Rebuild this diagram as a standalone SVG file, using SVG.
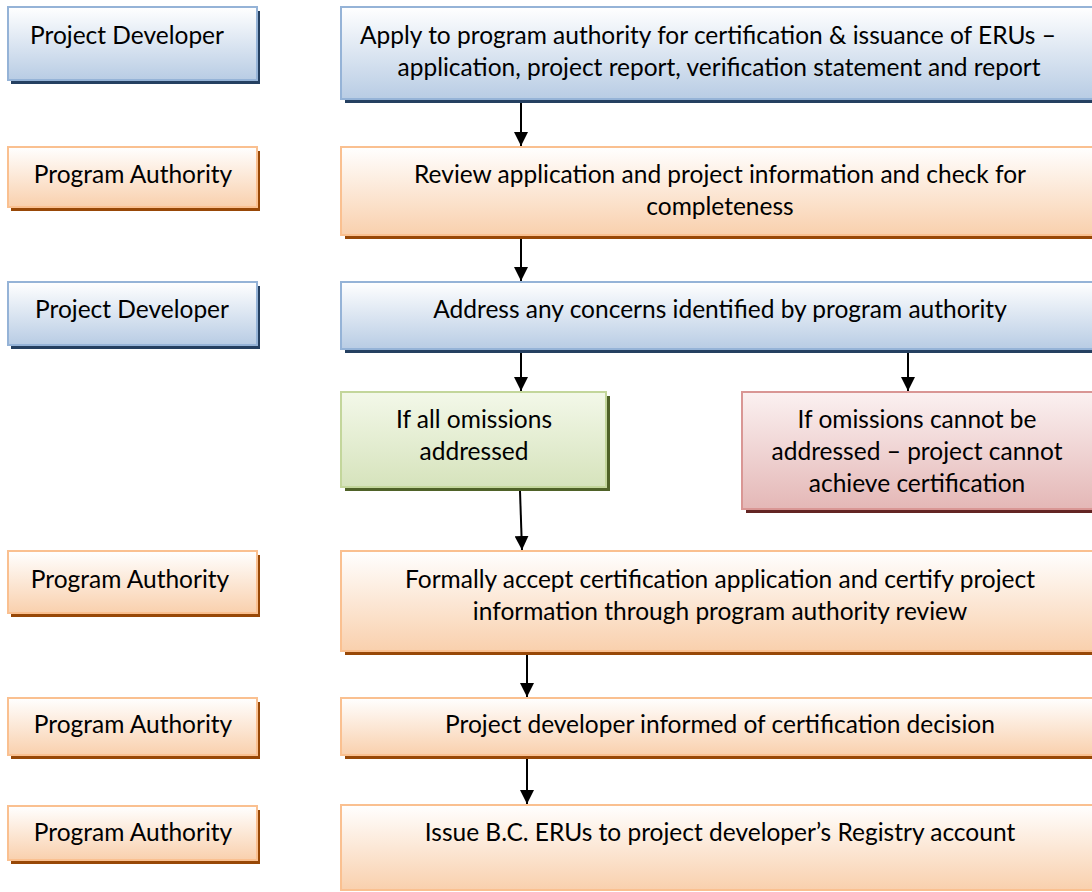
<svg xmlns="http://www.w3.org/2000/svg" width="1092" height="892" viewBox="0 0 1092 892">
<defs>
<linearGradient id="gBlue" x1="0" y1="0" x2="0" y2="1"><stop offset="0" stop-color="#ffffff"/><stop offset="1" stop-color="#b8cce4"/></linearGradient>
<linearGradient id="gOrange" x1="0" y1="0" x2="0" y2="1"><stop offset="0" stop-color="#ffffff"/><stop offset="1" stop-color="#f9d0ad"/></linearGradient>
<linearGradient id="gGreen" x1="0" y1="0" x2="0" y2="1"><stop offset="0" stop-color="#f3f8e9"/><stop offset="1" stop-color="#d6e3bc"/></linearGradient>
<linearGradient id="gRed" x1="0" y1="0" x2="0" y2="1"><stop offset="0" stop-color="#fbf1f1"/><stop offset="1" stop-color="#e4b7b6"/></linearGradient>
<marker id="arr" viewBox="0 0 14 14" refX="14" refY="7" markerWidth="14" markerHeight="14" markerUnits="userSpaceOnUse" orient="auto"><path d="M0,0 L14,7 L0,14 z" fill="#000"/></marker>
</defs>
<style>
text{font-family:Lato,"Liberation Sans",sans-serif;font-size:24.5px;fill:#000;text-anchor:middle}
.blue{fill:url(#gBlue);stroke:#95b3d7;stroke-width:2}
.blueS{fill:#254061}
.orange{fill:url(#gOrange);stroke:#fac090;stroke-width:2}
.orangeS{fill:#984807}
.green{fill:url(#gGreen);stroke:#c3d69b;stroke-width:2}
.greenS{fill:#4f6228}
.red{fill:url(#gRed);stroke:#d99694;stroke-width:2}
.redS{fill:#632523}
.conn line{stroke:#000;stroke-width:2;marker-end:url(#arr)}
</style>

<g id="pd1"><rect class="blueS" x="11" y="11" width="249" height="73"/><rect class="blue" x="8" y="7" width="249" height="73"/><text x="127" y="44">Project Developer</text></g>
<g id="step1"><rect class="blueS" x="345" y="11" width="760" height="92"/><rect class="blue" x="341" y="7" width="760" height="92"/><text x="708" y="44">Apply to program authority for certification &amp; issuance of ERUs –</text><text x="719" y="76">application, project report, verification statement and report</text></g>

<g id="pa1"><rect class="orangeS" x="11" y="151" width="249" height="60"/><rect class="orange" x="8" y="147" width="249" height="60"/><text x="133" y="183">Program Authority</text></g>
<g id="step2"><rect class="orangeS" x="345" y="151" width="760" height="88"/><rect class="orange" x="341" y="147" width="760" height="88"/><text x="720" y="183">Review application and project information and check for</text><text x="720" y="215">completeness</text></g>

<g id="pd2"><rect class="blueS" x="11" y="286" width="249" height="63"/><rect class="blue" x="8" y="282" width="249" height="63"/><text x="132" y="318">Project Developer</text></g>
<g id="step3"><rect class="blueS" x="345" y="286" width="760" height="67"/><rect class="blue" x="341" y="282" width="760" height="67"/><text x="720" y="318">Address any concerns identified by program authority</text></g>

<g id="yes"><rect class="greenS" x="345" y="396" width="265" height="95"/><rect class="green" x="341" y="392" width="265" height="95"/><text x="474" y="428">If all omissions</text><text x="474" y="460">addressed</text></g>
<g id="no"><rect class="redS" x="746" y="396" width="360" height="117"/><rect class="red" x="742" y="392" width="360" height="117"/><text x="917" y="428">If omissions cannot be</text><text x="917" y="460">addressed – project cannot</text><text x="917" y="492">achieve certification</text></g>

<g id="pa2"><rect class="orangeS" x="11" y="555" width="249" height="62"/><rect class="orange" x="8" y="551" width="249" height="62"/><text x="130" y="588">Program Authority</text></g>
<g id="step4"><rect class="orangeS" x="345" y="555" width="760" height="100"/><rect class="orange" x="341" y="551" width="760" height="100"/><text x="720" y="588">Formally accept certification application and certify project</text><text x="720" y="620">information through program authority review</text></g>

<g id="pa3"><rect class="orangeS" x="11" y="702" width="249" height="57"/><rect class="orange" x="8" y="698" width="249" height="57"/><text x="133" y="733">Program Authority</text></g>
<g id="step5"><rect class="orangeS" x="345" y="702" width="760" height="57"/><rect class="orange" x="341" y="698" width="760" height="57"/><text x="720" y="733">Project developer informed of certification decision</text></g>

<g id="pa4"><rect class="orangeS" x="11" y="810" width="249" height="54"/><rect class="orange" x="8" y="806" width="249" height="54"/><text x="133" y="841">Program Authority</text></g>
<g id="step6"><rect class="orange" x="341" y="805" width="760" height="85"/><text x="720" y="841">Issue B.C. ERUs to project developer’s Registry account</text></g>

<g id="connectors" class="conn">
<line x1="521" y1="103" x2="521" y2="146"/>
<line x1="521" y1="239" x2="521" y2="281"/>
<line x1="521" y1="353" x2="521" y2="391"/>
<line x1="908" y1="353" x2="908" y2="391"/>
<line x1="520" y1="491" x2="522" y2="550"/>
<line x1="527" y1="655" x2="527" y2="697"/>
<line x1="527" y1="759" x2="527" y2="804"/>
</g>
</svg>
